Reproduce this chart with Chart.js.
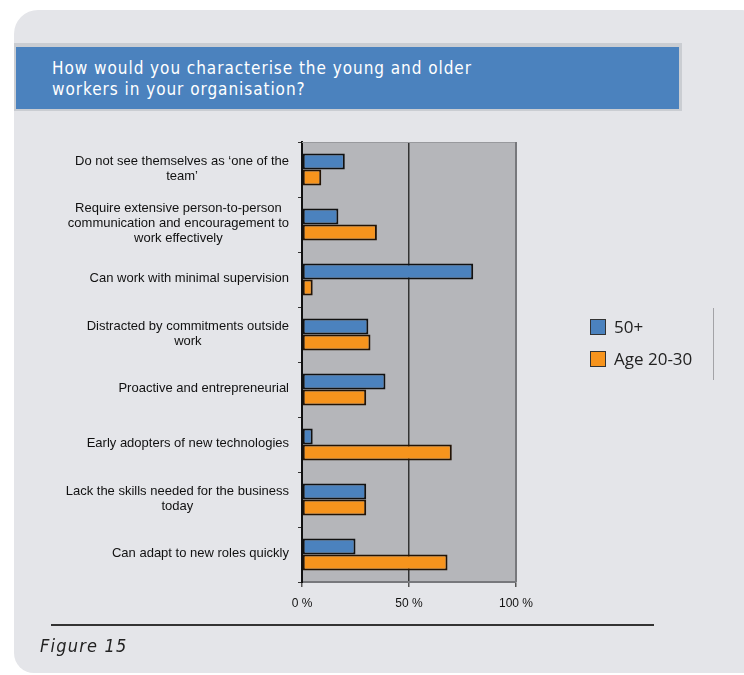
<!DOCTYPE html>
<html>
<head>
<meta charset="utf-8">
<script src="https://cdn.jsdelivr.net/npm/chart.js@4/dist/chart.umd.min.js"></script>
<style>
  html, body { margin: 0; padding: 0; background: #fff; }
  #page { position: relative; width: 744px; height: 675px; overflow: hidden; }
  #panel { position: absolute; left: 14px; top: 10px; width: 740px; height: 663px; background: #e4e5e9;
           border-radius: 24px 12px 0 20px; }
  #titleOuter { position: absolute; left: 14px; top: 43px; width: 668px; height: 68px; background: #cacdd2; }
  #titleBar { position: absolute; left: 16px; top: 47px; width: 663px; height: 62px; background: #4b82be;
              color: #fff; font-family: 'DejaVu Sans Condensed', 'DejaVu Sans', sans-serif; font-stretch: condensed;
              font-size: 17px; line-height: 21px; letter-spacing: 0.95px; }
  #titleBar div { position: absolute; left: 36px; top: 11px; }
  #chartBox { position: absolute; left: 0; top: 0; width: 744px; height: 675px; }
  #legend { position: absolute; left: 590px; top: 317px; font-family: 'Open Sans', sans-serif; font-size: 17px; color: #222; }
  .item { position: relative; height: 32px; }
  .sw { position: absolute; left: 0; top: 2px; width: 14px; height: 14px; border: 1px solid #333; }
  .lab { position: absolute; left: 24px; top: -2px; white-space: nowrap; }
  #legendLine { position: absolute; left: 713px; top: 308px; width: 1px; height: 72px; background: #a3a3a7; }
  #rule { position: absolute; left: 51px; top: 624px; width: 603px; height: 2px; background: #333; }
  #fig { position: absolute; left: 40px; top: 635px; font-family: 'DejaVu Sans Condensed', 'DejaVu Sans', sans-serif;
         font-stretch: condensed; font-style: italic; font-size: 18px; letter-spacing: 1.2px; color: #222; }
</style>
</head>
<body>
<div id="page">
  <div id="panel"></div>
  <div id="titleOuter"></div>
  <div id="titleBar"><div>How would you characterise the young and older<br>workers in your organisation?</div></div>
  <div id="chartBox"><canvas id="chart" width="744" height="675"></canvas></div>
  <div id="legend"></div>
  <div id="legendLine"></div>
  <div id="rule"></div>
  <div id="fig">Figure 15</div>
</div>
<script>
const categories = [
  ['Do not see themselves as \u2018one of the', 'team\u2019'],
  ['Require extensive person-to-person', 'communication and encouragement to', 'work effectively'],
  ['Can work with minimal supervision'],
  ['Distracted by commitments outside', 'work'],
  ['Proactive and entrepreneurial'],
  ['Early adopters of new technologies'],
  ['Lack the skills needed for the business', 'today'],
  ['Can adapt to new roles quickly']
];
const seriesNames = ['50+', 'Age 20-30'];
const olderValues = [20, 17, 80, 31, 39, 5, 30, 25];
const youngValues = [9, 35, 5, 32, 30, 70, 30, 68];
const xTicks = [0, 50, 100];

const colors = ['#4b82be', '#f7941d'];
const borders = ['#111', '#231406'];

// grey plot background plus top/right frame
const plotFrame = {
  id: 'plotFrame',
  beforeDraw(chart){
    const a = chart.chartArea, c = chart.ctx;
    c.save();
    c.fillStyle = '#b5b6ba';
    c.fillRect(a.left, a.top, a.right - a.left, a.bottom - a.top);
    c.restore();
  },
  afterDraw(chart){
    const a = chart.chartArea, c = chart.ctx;
    c.save();
    c.strokeStyle = '#98999d'; c.lineWidth = 1;
    c.beginPath(); c.moveTo(a.left, a.top + 0.5); c.lineTo(a.right, a.top + 0.5); c.stroke();
    c.strokeStyle = '#77787c'; c.lineWidth = 2;
    c.beginPath(); c.moveTo(a.right, a.top); c.lineTo(a.right, a.bottom); c.stroke();
    c.restore();
  }
};

// category labels: block right-aligned, lines centred within the block
const catLabels = {
  id: 'catLabels',
  afterDraw(chart){
    const y = chart.scales.y, c = chart.ctx;
    c.save();
    c.font = '13px "Liberation Sans", Arial, sans-serif';
    c.fillStyle = '#111';
    c.textAlign = 'center';
    c.textBaseline = 'middle';
    const right = y.right - 13, lh = 15;
    categories.forEach((lines, i) => {
      const py = y.getPixelForTick(i);
      const w = Math.max(...lines.map(l => c.measureText(l).width));
      const cx = right - w / 2;
      const y0 = py - (lines.length - 1) * lh / 2 - 1;
      lines.forEach((l, k) => c.fillText(l, cx, y0 + k * lh));
    });
    c.restore();
  }
};

const chart = new Chart(document.getElementById('chart'), {
  type: 'bar',
  data: {
    labels: categories,
    datasets: [
      { label: seriesNames[0], data: olderValues, backgroundColor: colors[0], borderColor: borders[0],
        borderWidth: 2, borderSkipped: false, categoryPercentage: 0.582, barPercentage: 1 },
      { label: seriesNames[1], data: youngValues, backgroundColor: colors[1], borderColor: borders[1],
        borderWidth: 2, borderSkipped: false, categoryPercentage: 0.582, barPercentage: 1 }
    ]
  },
  options: {
    indexAxis: 'y',
    responsive: false,
    animation: false,
    layout: { padding: { top: 142, right: 228, left: 0, bottom: 0 } },
    plugins: { legend: { display: false }, tooltip: { enabled: false } },
    scales: {
      x: {
        min: 0, max: 100,
        afterBuildTicks(s){ s.ticks = xTicks.map(v => ({ value: v })); },
        afterFit(s){ s.height = 93; },
        border: { color: '#77787c', width: 2 },
        grid: {
          color: ctx => (ctx.tick && ctx.tick.value === 50) ? '#333' : 'rgba(0,0,0,0)',
          lineWidth: 1.5, tickColor: '#555', tickLength: 5
        },
        ticks: {
          color: '#111', padding: 9,
          font: { family: '"Liberation Sans", Arial, sans-serif', size: 12 },
          callback: v => v + ' %'
        }
      },
      y: {
        afterFit(s){ s.width = 302; },
        border: { color: '#111', width: 2 },
        grid: { drawOnChartArea: false, offset: true, tickLength: 4, tickColor: '#333' },
        ticks: { color: 'rgba(0,0,0,0)', font: { size: 13 } }
      }
    }
  },
  plugins: [plotFrame, catLabels]
});

// legend built from the datasets
const lg = document.getElementById('legend');
chart.data.datasets.forEach((d, i) => {
  const it = document.createElement('div');
  it.className = 'item';
  it.innerHTML = '<div class="sw" style="background:' + d.backgroundColor + '"></div><div class="lab">' + d.label + '</div>';
  lg.appendChild(it);
});
</script>
</body>
</html>
